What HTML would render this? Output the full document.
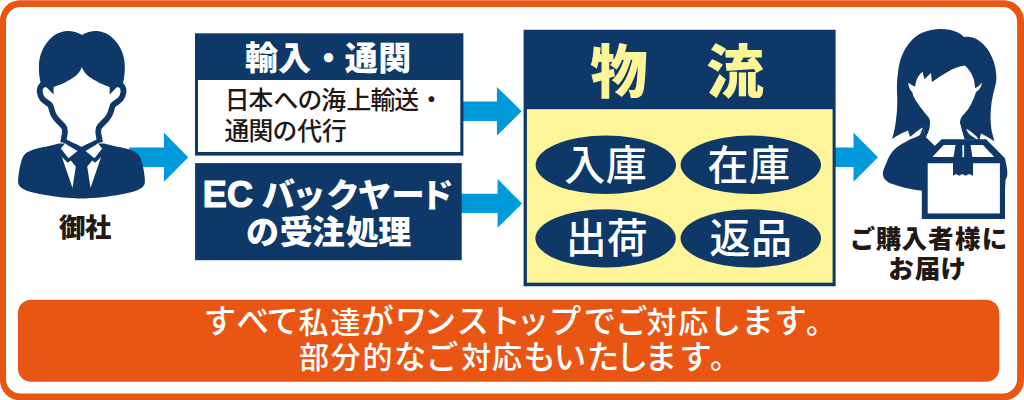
<!DOCTYPE html>
<html lang="ja">
<head>
<meta charset="utf-8">
<title>ワンストップ物流</title>
<style>
html,body{margin:0;padding:0;background:#fff;}
body{width:1024px;height:400px;overflow:hidden;position:relative;}
svg{display:block;position:absolute;left:0;top:0;}
text{font-family:"Liberation Sans","Noto Sans CJK JP",sans-serif;}
.blk{font-weight:900;}
.bld{font-weight:700;}
.med{font-weight:500;}
.reg{font-weight:400;}
</style>
</head>
<body>
<svg width="1024" height="400" viewBox="0 0 1024 400">
<!-- outer frame -->
<path fill="#E95513" fill-rule="evenodd" d="M20,0.3 H1004 A20,20 0 0 1 1024,20.3 V380.3 A20,20 0 0 1 1004,400.3 H20 A20,20 0 0 1 0,380.3 V20.3 A20,20 0 0 1 20,0.3 Z M20.5,7 A14.500,14.500 0 0 0 6,21.5 V379 A14.500,14.500 0 0 0 20.5,393.5 H1002.6 A14.500,14.500 0 0 0 1017.100,379 V21.5 A14.500,14.500 0 0 0 1002.6,7 Z"/>
<!-- bottom banner -->
<rect x="18" y="299.700" width="981.2" height="82.100" rx="13" ry="13" fill="#E95513"/>
<text class="med" y="332.5" fill="#fff" text-anchor="middle"><tspan font-size="32.5" x="219.7 252.7 282.5" dy="0.9">すべて</tspan><tspan font-size="30" x="313.4 345.4" dy="-0.9">私達</tspan><tspan font-size="32.5" x="377.5 411.0 439.8 472.8 504.5 533.0 565.0 599.7 631.3" dy="0.9">がワンストップでご</tspan><tspan font-size="30" x="661.4 693.3" dy="-0.9">対応</tspan><tspan font-size="32.5" x="725.0 757.5 790.5" dy="0.9">します</tspan><tspan font-size="30" x="821.1" dy="-0.9">。</tspan></text>
<text class="med" y="368.2" fill="#fff" text-anchor="middle"><tspan font-size="30" x="314.0 345.4 377.4">部分的</tspan><tspan font-size="32.5" x="410.0 442.1" dy="0.9">なご</tspan><tspan font-size="30" x="476.2 507.0" dy="-0.9">対応</tspan><tspan font-size="32.5" x="539.5 570.0 603.0 632.0 660.9 695.5" dy="0.9">もいたします</tspan><tspan font-size="30" x="725.0" dy="-0.9">。</tspan></text>

<!-- arrows -->
<g fill="#0099D9">
<polygon points="129.2,147.5 164,147.5 164,132.75 188.2,157.25 164,181.75 164,167 129.2,167"/>
<polygon points="463,101.5 496.9,101.5 496.9,86.9 521.6,111.25 496.9,135.8 496.9,121 463,121"/>
<polygon points="461,193.75 497.6,193.75 497.6,179 522,203.4 497.6,227.8 497.6,213.1 461,213.1"/>
<polygon points="835,147.5 853.5,147.5 853.5,132.75 878,157.25 853.5,181.75 853.5,167 835,167"/>
</g>

<!-- box 1 -->
<rect x="195" y="33.3" width="268.4" height="122.3" fill="#0E3868"/>
<rect x="198" y="80" width="262.3" height="72" fill="#fff"/>
<text class="blk" y="70.2" font-size="33" fill="#fff" text-anchor="middle" x="261.6 294.5 328.4 361.3 394.7">輸入・通関</text>
<text class="med" y="109.2" font-size="24.8" fill="#231815" text-anchor="middle" x="237.2 260.9 286.0 310.0 333.6 358.8 382.9 406.6 431.3">日本への海上輸送・</text>
<text class="med" y="139.6" font-size="24.8" fill="#231815" text-anchor="middle" x="236.9 260.9 285.0 309.7 334.4">通関の代行</text>

<!-- box 2 -->
<rect x="195.1" y="163.1" width="266.6" height="97.1" fill="#0E3868"/>
<text class="bld" x="202.7 226.9" y="207" font-size="36" fill="#fff" stroke="#fff" stroke-width="1.2" stroke-linejoin="miter">EC</text>
<text class="blk" y="206.7" font-size="33.5" fill="#fff" text-anchor="middle" x="278.2 309.0 343.1 374.4 407.9 436.9">バックヤード</text>
<text class="blk" y="243.5" font-size="33" fill="#fff" text-anchor="middle" x="262.5 296.2 328.2 362.2 394.7">の受注処理</text>

<!-- logistics box -->
<rect x="523.6" y="29.75" width="312" height="256.5" fill="#0E3868"/>
<rect x="526.9" y="109.2" width="305.7" height="173.5" fill="#FDF598"/>
<text class="blk" y="92.5" font-size="57.5" fill="#FDF598" text-anchor="middle" x="619.0 735.0">物流</text>
<g fill="#0E3868">
<ellipse cx="605.8" cy="164.8" rx="70.2" ry="29.2"/>
<ellipse cx="750.8" cy="164.8" rx="70.2" ry="29.2"/>
<ellipse cx="605.6" cy="238.45" rx="70.2" ry="29.1"/>
<ellipse cx="750.8" cy="238.45" rx="70.2" ry="29.1"/>
</g>
<g class="med" font-size="41" fill="#fff" text-anchor="middle">
<text y="179.8" x="584.7 626.2">入庫</text>
<text y="179.5" x="728.0 769.4">在庫</text>
<text y="253.2" x="586.2 627.2">出荷</text>
<text y="253.1" x="730.0 771.4">返品</text>
</g>

<!-- captions -->
<text class="blk" y="236.5" font-size="26.3" fill="#231815" text-anchor="middle" x="72.1 98.2">御社</text>
<text class="blk" y="248.3" font-size="25.5" fill="#231815" text-anchor="middle" x="862.5 888.5 914.3 940.8 967.7 994.4">ご購入者様に</text>
<text class="blk" y="277.7" font-size="25.5" fill="#231815" text-anchor="middle" x="901.1 927.5 953.3">お届け</text>

<!-- man icon -->
<g id="man">
<path fill="#0E3868" d="M58.8,143.5 C52,145.5 47,146.5 42.5,147.3 C38,148.2 34,149.3 31.1,150.6 C28,151.8 26,153 24.6,154.6 C23,156.5 22,158.5 21.4,161.1 C20.3,165 19.5,169 18.9,172.5 C18.4,176 18.1,179 18.1,181.5 C18.1,183.5 18.6,185 19.75,186.3 C21,188 23.5,189.4 26.3,190.4 C31,192 37,193.4 42.5,194.5 C48,195.5 54,196.3 58.8,196.9 C64,197.5 70,198 75,198.2 C78,198.4 80,198.5 81.5,198.5 L81.5,198.5 C83,198.5 85,198.4 88,198.2 C93,198 99,197.5 104.2,196.9 C109,196.3 115,195.5 120.5,194.5 C126,193.4 132,192 136.7,190.4 C139.5,189.4 142,188 143.25,186.3 C144.4,185 144.9,183.5 144.9,181.5 C144.9,179 144.6,176 144.1,172.5 C143.5,169 142.7,165 141.6,161.1 C141,158.5 140,156.5 138.4,154.6 C137,153 135,151.8 131.9,150.6 C129,149.3 125,148.2 120.5,147.3 C116,146.5 111,145.5 104.2,143.5 Z"/>
<path fill="#fff" d="M43,84 C40.5,86.5 39.3,89.5 39.75,92.2 C40.2,95 41,97.3 42.5,99 C44.5,101.5 48.5,103 50.5,105.5 C51.5,108 52,112 54,115.5 C55.5,118.5 57.5,120.5 60.25,123 L63.6,126.6 C64.6,127.8 64.9,129 64.9,130.5 L64.75,133.5 C64.5,136 63.8,138.5 63.1,142.5 L100.1,142.5 L120.19999999999999,84 Z"/>
<path fill="#fff" d="M 120.2,84.0 C 122.7,86.5 123.9,89.5 123.45,92.2 C 123.0,95.0 122.2,97.3 120.7,99.0 C 118.7,101.5 114.7,103.0 112.7,105.5 C 111.7,108.0 111.2,112.0 109.2,115.5 C 107.7,118.5 105.7,120.5 102.95,123.0 L 99.6,126.6 C 98.6,127.8 98.3,129.0 98.3,130.5 L 98.45,133.5 C 98.7,136.0 99.4,138.5 100.1,142.5 L63.1,142.5 L43,84 Z"/>
<polygon fill="#fff" points="67,126 67,133 66.3,139.3 81.5,147 96.7,139.3 96,133 96,126"/>
<g fill="none" stroke="#0E3868" stroke-width="5.8" stroke-linejoin="round">
<path d="M43,84 C40.5,86.5 39.3,89.5 39.75,92.2 C40.2,95 41,97.3 42.5,99 C44.5,101.5 48.5,103 50.5,105.5 C51.5,108 52,112 54,115.5 C55.5,118.5 57.5,120.5 60.25,123 L63.6,126.6 C64.6,127.8 64.9,129 64.9,130.5 L64.75,133.5 C64.5,136 63.8,138.5 63.1,142.5"/>
<path d="M 120.2,84.0 C 122.7,86.5 123.9,89.5 123.45,92.2 C 123.0,95.0 122.2,97.3 120.7,99.0 C 118.7,101.5 114.7,103.0 112.7,105.5 C 111.7,108.0 111.2,112.0 109.2,115.5 C 107.7,118.5 105.7,120.5 102.95,123.0 L 99.6,126.6 C 98.6,127.8 98.3,129.0 98.3,130.5 L 98.45,133.5 C 98.7,136.0 99.4,138.5 100.1,142.5"/>
</g>
<polyline fill="none" stroke="#0E3868" stroke-width="4" points="62.5,139.7 81.5,149.3 100.5,139.7"/>
<path fill="#0E3868" d="M82,35.1 C77,31.5 70,30.6 64.9,31.2 C58,32.2 53,35.5 49.5,39.6 C45.5,44 43,48 41.4,52.6 C39.8,57 39,61 38.9,65.6 C38.8,70 39.1,75 39.75,78.6 C40.3,82 41.2,85 42.2,87.6 L46.5,87.3 L53.5,94.5 L53.6,87 C59,85.3 64,83.5 67.4,81.1 C71.5,79 75,77 77.1,74.6 C79.5,72 81,69.5 81.85,66.9 C82.7,69.5 84.2,72 86.6,74.6 C88.7,77 92.2,79 96.3,81.1 C99.7,83.5 103.7,85 109.6,87 L109.7,94.5 L116.7,87.3 L121.5,87.6 C122.5,85 123.4,82 123.95,78.6 C124.6,75 124.9,70 124.8,65.6 C124.7,61 123.9,57 122.3,52.6 C120.7,48 118.2,44 114.2,39.6 C110.7,35.5 105.7,32.2 98.8,31.2 C93.7,30.6 87,31.5 82,35.1 Z"/>
<g fill="#fff">
<polygon points="65,143.5 60.8,148.5 68.5,158.2 77.5,151"/>
<polygon points="98.0,143.5 102.2,148.5 94.5,158.2 85.5,151"/>
<polygon points="61.9,157 67.8,162.7 70.8,160.6 75.8,166.6 72.5,188"/>
<polygon points="101.1,157 95.2,162.7 92.2,160.6 87.2,166.6 90.5,188"/>
</g>
</g>

<!-- woman icon -->
<g id="woman">
<path fill="#0E3868" d="M940.4,29.1 C934,29.3 928,30.5 923.5,32.3 C918,34.5 914,37.5 910.4,41.7 C906.5,46 904,50.5 901.9,55.75 C900,60.5 899,65.5 898.2,70.75 C897.5,75.5 897,80.5 896.9,85.75 C896.8,91 897.3,96 897.3,101 C897.3,108 896.8,114 896,120 C895.2,127 893.8,133.5 892,139 C897,135.5 902.5,132.5 908,130.5 L910,137 C914,133.5 918,130.5 922.5,127.5 L926,137.5 L932,137.5 L932,118 L960,118 L960,123 L962,131 L964.5,139.5 L979.5,139.5 L981,133.5 C985.5,135.5 990.5,138.5 994.5,141.5 C993.5,138 992.3,133.5 991.5,130 C991,126 990.6,122 990.5,118 C990.5,113 990.8,108 991.5,103 C992.5,96 994.3,90 995.7,84 C996.4,81 996.5,78 996.25,74.5 C995.8,69 994.8,64 992.9,59.5 C991,54.5 988.5,50 985.4,46.4 C982,42.5 978.5,39.5 974.1,37.9 C970.5,36.8 967,36.6 963.8,37 C962,35 959.8,33.5 957.25,32.3 C952,30 946,29 940.4,29.1 Z"/>
<path fill="#0E3868" d="M922.5,128 L920,135 C916,137 912.5,138.5 909,140 C904,142.5 900,145 896,148 C891,152 888,158 886,164 C884.5,167 883.3,170 882.8,172.8 C882.5,177 885,180.5 889.5,182.9 C899,186.5 910,189.5 922.1,190.8 L1005,190.8 L1005.5,180 C1006.8,178 1007.4,175.5 1007.4,173.25 C1007.3,168 1006,162.5 1004.9,158.25 L986,150 L940,150 L935,146 L926,137 Z"/>
<path fill="#fff" d="M966.5,128.8 C969,130.5 971,131.8 972.5,133 C974.5,134.5 976.5,136.5 978.3,138.6 L976.8,139.3 C974.5,137.8 972.5,136.6 970.5,135.3 C969,134 967.6,132 966.8,130.5 Z"/>
<path fill="#fff" d="M964.75,65.5 C958,66.5 952,69 947.9,71.7 C942,75 937,78.5 931.9,82 L931,73 L924.4,79.2 L922.6,71.7 C919,74.5 916.8,78 916,82 C915.5,84 915.3,85 915.2,86.5 C912.5,85.5 910,84.2 908.1,82.4 C908.5,86.5 910,90 912.25,92.3 C913,94.5 913,95 913.3,96 C917,103 923,111 929,118 C930,120 930.2,121.5 930,123 C930,125.5 929.5,128 929,130 C928.2,132.5 927,135 926,137 L935,145.5 L966,146 L964.5,139 C963.5,136.5 962.7,134 962,131 C960.8,128.5 960,125.5 960,123 C960.1,121 960.5,119.5 961,118 C963,115 965.5,112.5 968,109.6 C970.5,105.5 972.7,101 974.4,96.8 C975,95 975.5,93.5 976,92 C979,90.5 981.3,87 982,82.4 C980,85 977.5,87 975,88 C974.8,84 974.3,80.5 973.3,78 C971.5,73 968.5,68.5 964.75,65.5 Z"/>
<!-- box -->
<polygon fill="#0E3868" points="941.75,139.25 986.1,139.25 1005,158.25 1005,218.9 921.8,218.9 921.8,158.25"/>
<rect x="927.7" y="163.25" width="72.2" height="50.2" fill="#fff"/>
<polygon fill="#fff" points="943.6,145.1 955.5,145.1 953.6,157 932.4,157"/>
<polygon fill="#fff" points="970.5,145.1 983,145.1 994.25,157 972.4,157"/>
<polygon fill="#0E3868" points="953,157 973,157 973,175.75 969.25,173.9 965.5,175.75 962.4,173.9 959.25,175.75 956.1,173.9 953,175.75"/>
<rect x="962.4" y="145.1" width="1.7" height="12" fill="#fff"/>
</g>
</svg>
</body>
</html>
